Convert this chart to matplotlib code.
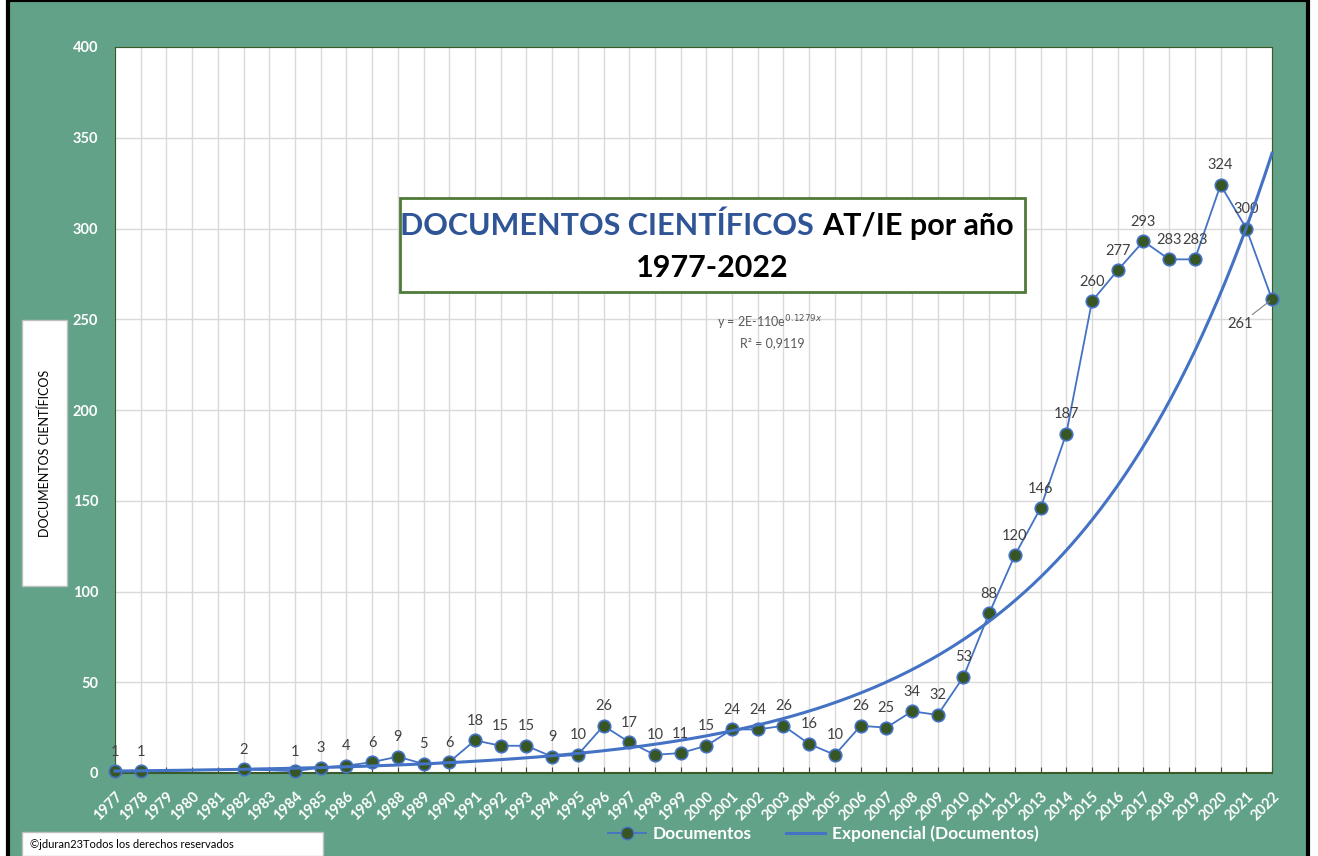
import matplotlib.pyplot as plt
import numpy as np
from matplotlib.patches import Rectangle
from matplotlib.lines import Line2D

plt.rcParams['font.family'] = ['Lato', 'DejaVu Sans']

years = [1977, 1978, 1982, 1984, 1985, 1986, 1987, 1988, 1989, 1990,
         1991, 1992, 1993, 1994, 1995, 1996, 1997, 1998, 1999, 2000,
         2001, 2002, 2003, 2004, 2005, 2006, 2007, 2008, 2009, 2010,
         2011, 2012, 2013, 2014, 2015, 2016, 2017, 2018, 2019, 2020,
         2021, 2022]
docs = [1, 1, 2, 1, 3, 4, 6, 9, 5, 6,
        18, 15, 15, 9, 10, 26, 17, 10, 11, 15,
        24, 24, 26, 16, 10, 26, 25, 34, 32, 53,
        88, 120, 146, 187, 260, 277, 293, 283, 283, 324,
        300, 261]
all_years = list(range(1977, 2023))
y_ticks = list(range(0, 401, 50))

GREEN_BG = '#62a288'
BLUE = '#4472c4'
DARK = '#375623'

W, H = 1318, 856
fig = plt.figure(figsize=(W / 100, H / 100), dpi=100, facecolor='white')


def fx(px):
    return px / W


def fy(py):
    return 1 - py / H


# outer green panel with black frame
fig.patches.append(Rectangle((fx(8), fy(870)), fx(1300), 870 / H,
                             transform=fig.transFigure, facecolor=GREEN_BG,
                             edgecolor='black', lw=3, zorder=-10))

ax = fig.add_axes([fx(115), fy(773), fx(1272 - 115), (773 - 47) / H])
ax.set_facecolor('white')
ax.set_xlim(1977, 2022)
ax.set_ylim(0, 400)
ax.set_xticks(all_years)
ax.set_xticklabels([str(y) for y in all_years], rotation=45, ha='right',
                   rotation_mode='anchor', color='white', fontsize=10.5,
                   fontweight='bold')
ax.set_yticks(y_ticks)
ax.set_yticklabels([str(v) for v in y_ticks], color='white', fontsize=10.5,
                   fontweight='bold')
ax.tick_params(axis='y', length=0, pad=12)
ax.tick_params(axis='x', direction='in', length=4, color='#3a4a2a', pad=12)
ax.grid(True, color='#d9d9d9', lw=1)
ax.set_axisbelow(True)
for s in ['top', 'right', 'left']:
    ax.spines[s].set_color('#3a5a2a')
    ax.spines[s].set_linewidth(0.8)
ax.spines['bottom'].set_color('#3a5a2a')
ax.spines['bottom'].set_linewidth(1.5)

# data series
ax.plot(years, docs, color=BLUE, lw=1.3, marker='o', markersize=9,
        markerfacecolor=DARK, markeredgecolor=BLUE, markeredgewidth=1.2,
        zorder=3, clip_on=False)

# exponential trendline (least squares on log values, like Excel)
b, ln_a = np.polyfit(years, np.log(docs), 1)
xs = np.linspace(1977, 2022, 300)
ax.plot(xs, np.exp(ln_a + b * xs), color=BLUE, lw=2.2, zorder=4,
        clip_on=False)

# data labels
for x, v in zip(years, docs):
    if x == 2022:
        ax.annotate(str(v), (x, v), xytext=(-14, -18), textcoords='offset points',
                    ha='right', va='center', fontsize=10.5, color='#404040',
                    arrowprops=dict(arrowstyle='-', color='#808080', lw=0.8,
                                    shrinkA=0, shrinkB=2))
    else:
        ax.annotate(str(v), (x, v), xytext=(0, 9), textcoords='offset points',
                    ha='center', va='bottom', fontsize=10.5, color='#404040')

# trendline equation
fig.text(fx(770), fy(323), r'y = 2E-110e$^{0.1279x}$', ha='center',
         va='center', fontsize=9, color='#595959')
fig.text(fx(772), fy(343), 'R² = 0,9119', ha='center', va='center',
         fontsize=9, color='#595959')

# title box
fig.patches.append(Rectangle((fx(400), fy(292)), fx(625), 94 / H,
                             transform=fig.transFigure, facecolor='white',
                             edgecolor='#4f7a3a', lw=2, zorder=5))
fig.text(fx(814), fy(226), 'DOCUMENTOS CIENTÍFICOS', ha='right', va='center',
         fontsize=22, fontweight='bold', color='#2f5597', zorder=6)
fig.text(fx(822), fy(226), 'AT/IE por año', ha='left', va='center',
         fontsize=22, fontweight='bold', color='black', zorder=6)
fig.text(fx(712), fy(268), '1977-2022', ha='center', va='center',
         fontsize=22, fontweight='bold', color='black', zorder=6)

# y label box
fig.patches.append(Rectangle((fx(22), fy(586)), fx(45), 266 / H,
                             transform=fig.transFigure, facecolor='white',
                             edgecolor='#bfbfbf', lw=1, zorder=5))
fig.text(fx(45), fy(453), 'DOCUMENTOS CIENTÍFICOS', rotation=90,
         ha='center', va='center', fontsize=9, color='black', zorder=6)

# copyright box
fig.patches.append(Rectangle((fx(22), fy(856)), fx(301), 24 / H,
                             transform=fig.transFigure, facecolor='white',
                             edgecolor='#bfbfbf', lw=1, zorder=5))
fig.text(fx(30), fy(845), '©jduran23Todos los derechos reservados',
         ha='left', va='center', fontsize=8, color='black', zorder=6)

# legend
handles = [Line2D([], [], color=BLUE, lw=1.3, marker='o', markersize=9,
                  markerfacecolor=DARK, markeredgecolor=BLUE),
           Line2D([], [], color=BLUE, lw=2.2)]
leg = fig.legend(handles, ['Documentos', 'Exponencial (Documentos)'],
                 loc='center', bbox_to_anchor=(fx(823), fy(834)), ncol=2,
                 frameon=False, fontsize=12.5, handlelength=2.2,
                 columnspacing=2.0, handletextpad=0.4)
for t in leg.get_texts():
    t.set_color('white')
    t.set_fontweight('bold')

fig.savefig('out.png', dpi=100, facecolor='white')
